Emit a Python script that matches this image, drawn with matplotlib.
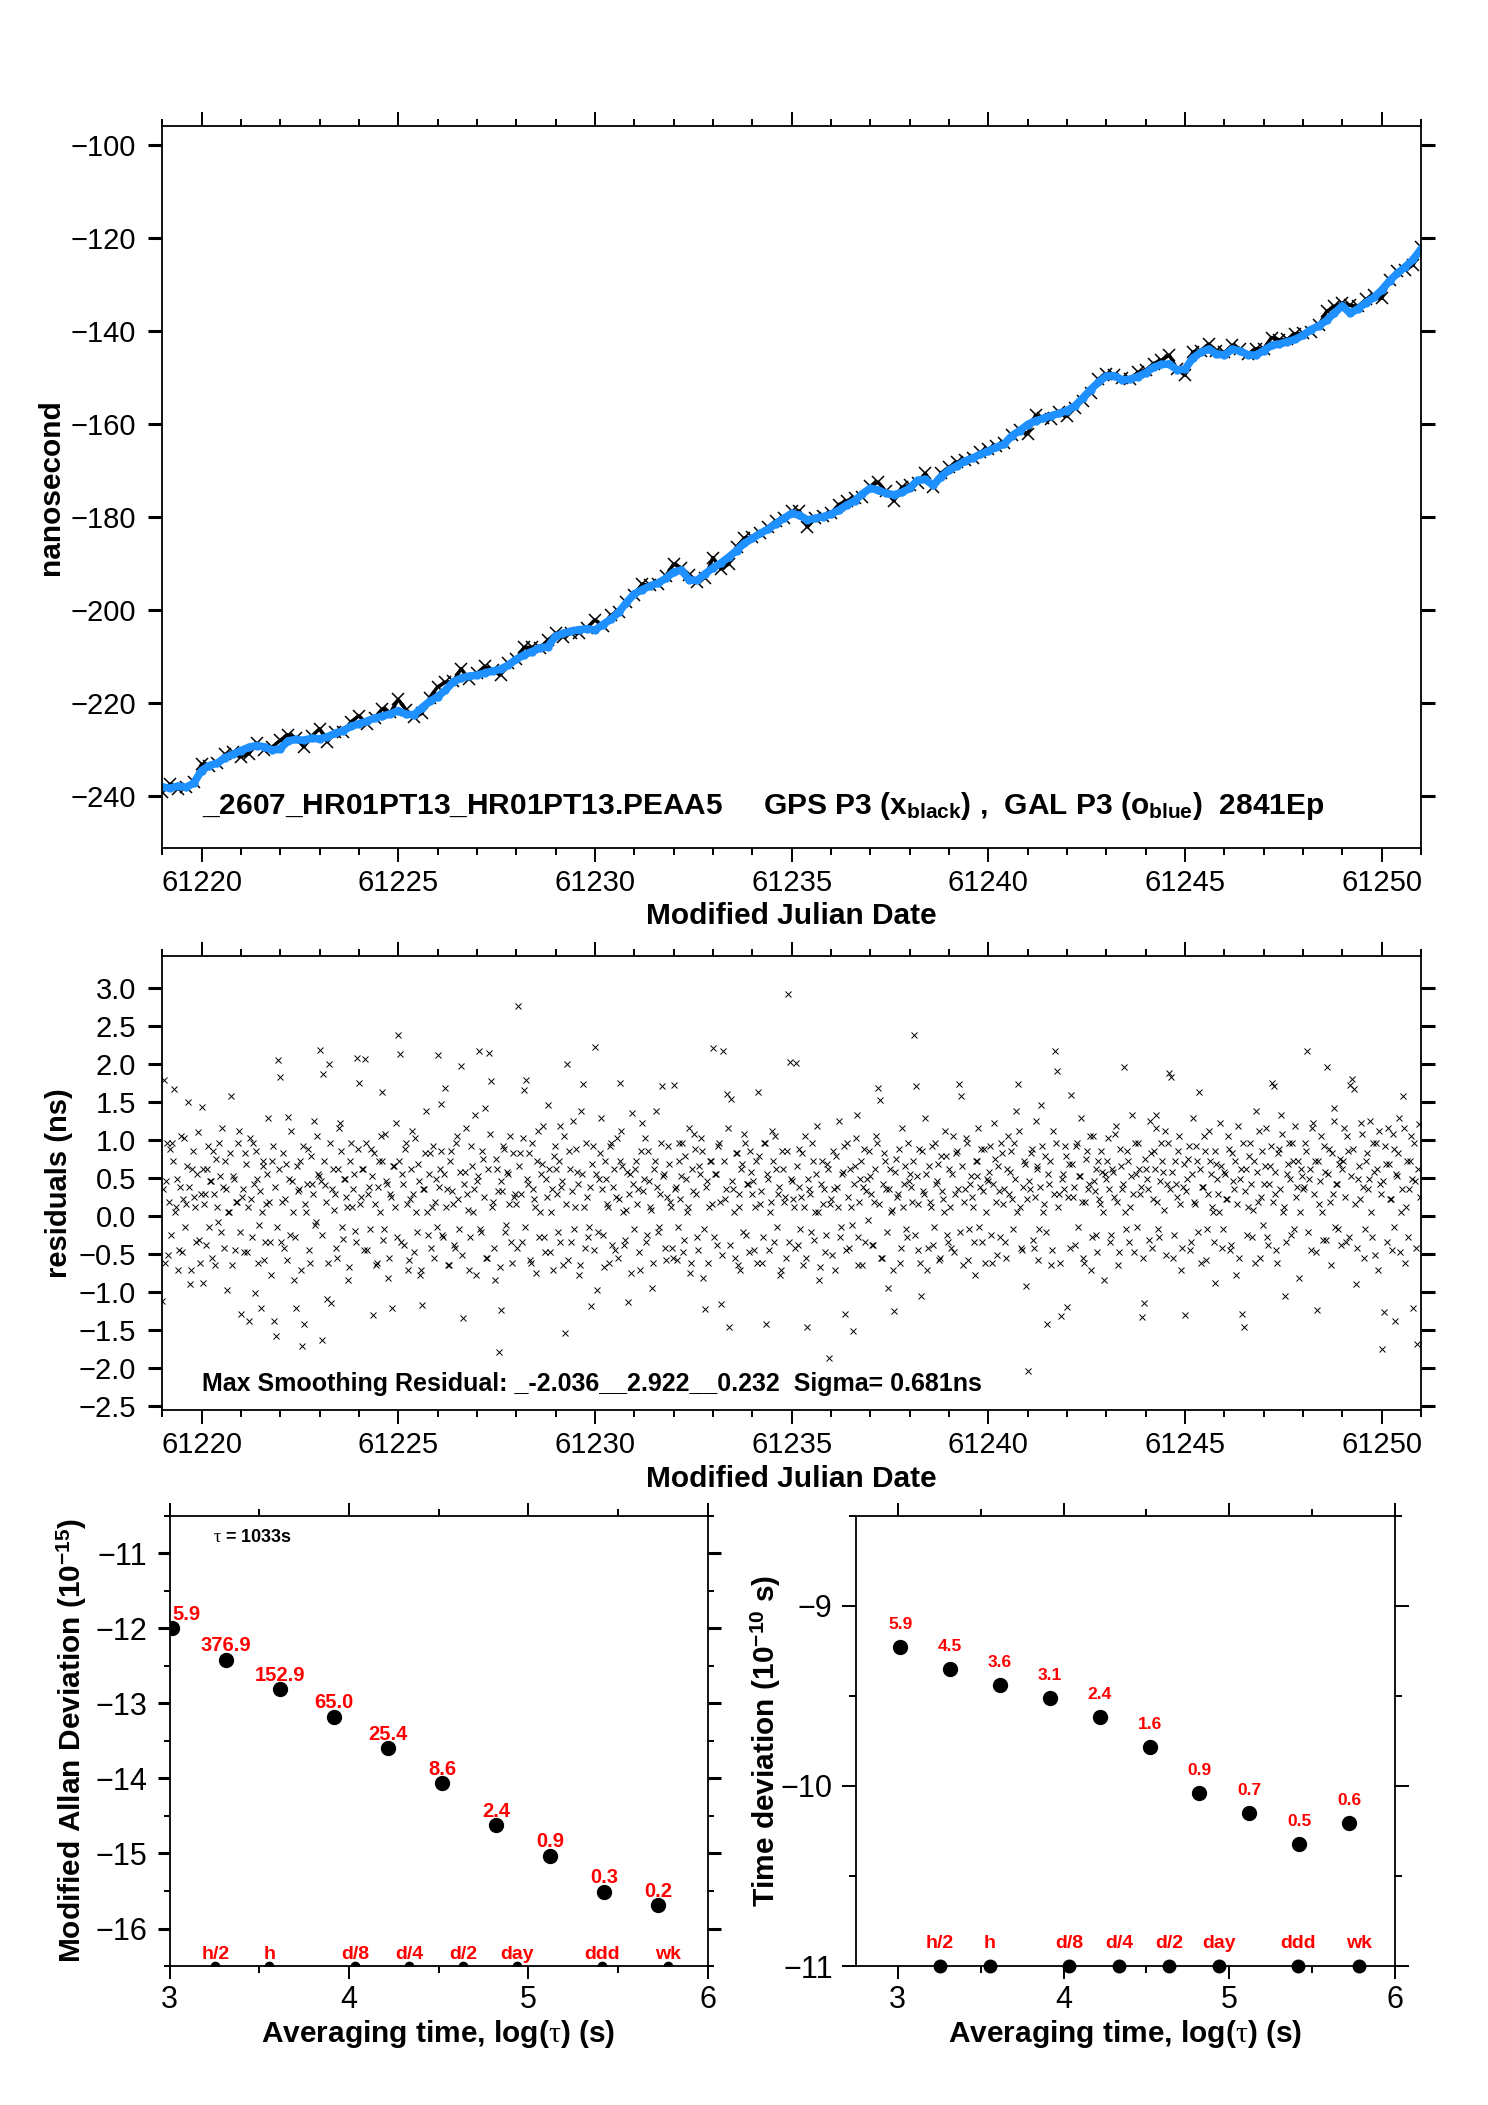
import numpy as np
import matplotlib
matplotlib.use('Agg')
import matplotlib.pyplot as plt
from matplotlib.ticker import MultipleLocator, FuncFormatter

plt.rcParams['font.family'] = ['Liberation Sans', 'DejaVu Sans']
plt.rcParams['mathtext.fontset'] = 'custom'
plt.rcParams['mathtext.rm'] = 'Liberation Sans'
plt.rcParams['mathtext.bf'] = 'Liberation Sans:bold'
plt.rcParams['mathtext.it'] = 'Liberation Serif'

# ---------------- data ----------------
# top panel, one value every 0.2 day from MJD 61219.0 to 61251.0
gal_ns = [-238.0, -238.3, -237.8, -238.1, -237.2, -234.5, -233.4, -232.9, -231.7, -231.0,
          -230.2, -229.5, -229.1, -229.4, -230.1, -229.8, -228.1, -227.8, -228.0, -227.5,
          -227.7, -227.2, -226.5, -225.9, -225.0, -224.4, -223.9, -223.2, -222.8, -222.3,
          -221.6, -222.4, -222.5, -221.0, -219.6, -218.6, -217.2, -215.4, -214.6, -214.2,
          -214.0, -213.5, -213.1, -212.7, -211.8, -210.6, -209.6, -208.9, -208.1, -207.9,
          -205.6, -205.0, -204.5, -204.2, -204.0, -204.3, -203.1, -202.0, -200.5, -198.4,
          -196.5, -195.6, -194.8, -194.2, -193.2, -191.8, -191.4, -193.5, -193.6, -192.2,
          -190.9, -189.9, -188.6, -187.2, -185.6, -184.6, -183.5, -182.6, -181.4, -180.3,
          -179.2, -179.6, -180.6, -180.3, -179.9, -179.4, -178.5, -177.4, -176.5, -175.0,
          -173.8, -174.2, -174.9, -175.2, -174.7, -173.8, -172.1, -171.9, -173.2, -171.3,
          -169.9, -169.0, -168.0, -167.3, -166.5, -165.8, -165.0, -164.3, -162.5, -161.4,
          -160.1, -159.3, -158.8, -158.2, -157.7, -157.1, -156.1, -154.4, -152.6, -151.0,
          -149.7, -149.6, -150.5, -150.4, -149.8, -149.0, -147.8, -147.2, -147.1, -148.4,
          -148.2, -145.8, -144.6, -143.9, -144.9, -145.2, -143.9, -144.3, -145.1, -145.2,
          -144.2, -143.1, -142.8, -142.3, -141.8, -140.9, -139.7, -138.9, -137.7, -136.1,
          -134.6, -136.2, -135.2, -133.9, -132.8, -131.2, -129.2, -127.6, -126.2, -124.6,
          -122.4]
gps_ns = [-239.1, -237.4, -238.5, -238.0, -237.0, -233.1, -233.6, -232.8, -231.0, -230.5,
          -231.5, -230.9, -228.6, -230.0, -229.4, -228.0, -226.8, -227.5, -229.4, -227.1,
          -225.5, -228.3, -226.2, -226.2, -224.0, -222.7, -224.4, -223.1, -221.2, -222.0,
          -219.2, -221.4, -223.0, -222.2, -218.8, -216.5, -215.5, -215.3, -212.6, -214.9,
          -213.6, -212.1, -212.9, -213.9, -211.3, -210.5, -208.0, -208.0, -208.1, -206.5,
          -205.0, -205.7, -204.9, -205.0, -203.8, -202.1, -203.4, -201.1, -200.3, -198.3,
          -196.7, -194.4, -194.7, -194.4, -192.7, -190.1, -190.9, -192.4, -193.9, -193.0,
          -188.7, -191.1, -190.1, -186.4, -184.5, -184.3, -183.4, -182.1, -180.8, -180.1,
          -178.8, -178.7, -182.1, -180.3, -179.8, -179.2, -177.3, -176.5, -175.9, -175.7,
          -173.3, -172.5, -174.5, -176.5, -173.6, -173.2, -172.6, -170.6, -173.6, -170.5,
          -169.3, -168.2, -167.7, -167.2, -166.1, -165.4, -164.8, -164.0, -162.3, -161.3,
          -162.1, -158.1, -158.8, -158.9, -157.4, -158.3, -156.5, -155.0, -153.3, -150.3,
          -149.2, -149.4, -150.2, -150.3, -148.9, -148.4, -147.0, -146.3, -145.2, -148.2,
          -149.5, -144.5, -144.2, -142.8, -144.2, -144.6, -143.1, -143.8, -145.0, -143.8,
          -143.8, -141.4, -141.9, -141.8, -140.6, -140.5, -140.2, -138.8, -135.8, -134.7,
          -134.0, -134.5, -134.7, -133.2, -132.2, -133.0, -129.0, -127.1, -126.8, -125.8,
          -122.0]

# residuals, one value every 0.05 day from MJD 61219.0 (one row per day)
res_ns = [
    -1.12, 1.79, 0.45, -0.52, 0.88, 0.95, 1.66, 0.12, -0.71, 0.38, -0.48, 1.02, 0.15, 1.50, -0.90, 0.62, 0.24, -0.35, 1.10, -0.62,
    1.43, -0.88, 0.28, 0.62, -0.15, 0.45, 0.85, -0.65, 0.12, 0.95, -0.22, 0.38, 0.72, -0.98, 0.05, 1.58, 0.52, -0.45, 0.18, 1.12,
    -1.29, 0.35, 0.82, -0.48, -1.38, 0.22, 0.95, -1.02, 0.48, -0.12, -1.22, 0.65, -0.58, 0.15, 1.28, -0.35, 0.72, -1.38, -1.58, 2.05,
    1.83, 0.18, -0.42, 0.68, 1.30, -0.25, 0.45, -0.85, -1.22, 0.32, 0.72, -1.72, -1.43, 0.05, 0.88, -0.62, 0.42, 1.25, -0.08, 0.55,
    2.18, -1.63, 1.86, 0.40, -1.09, 2.00, -1.15, 0.62, 0.28, -0.55, 1.15, 0.85, -0.30, 0.48, 0.12, -0.68, 0.95, 0.35, -0.20, 2.07,
    1.74, 0.25, 0.62, 2.06, -0.45, 0.38, 0.88, -1.30, 0.15, -0.62, 0.72, 1.05, 1.63, -0.18, 0.45, -0.82, 0.28, -1.21, 0.65, 1.22,
    2.38, 2.13, 0.55, -0.38, 0.95, -0.72, 0.22, 1.12, -0.48, 0.05, 0.68, -0.78, -1.17, 0.35, 1.38, -0.25, 0.82, 0.12, -0.55, 0.48,
    2.12, 0.62, 1.47, -0.28, 1.68, 0.35, -0.65, 0.85, 0.15, -0.42, 1.05, -0.18, 1.97, -1.35, 0.58, 0.28, -0.72, 0.92, 0.05, 1.32,
    0.45, 2.17, -0.22, 0.75, 1.42, -0.55, 2.14, 1.77, 0.18, -0.85, 0.62, -1.79, -1.24, 0.32, 0.88, -0.12, 0.55, 1.05, -0.62, 0.25,
    0.15, 2.76, 0.82, -0.35, 1.65, 1.79, 0.42, -0.58, 0.95, 0.22, -0.75, 1.12, 0.05, 0.68, -0.28, 0.48, 1.45, -0.48, 0.35, 0.78,
    0.62, -0.22, 1.18, 0.38, -0.65, -1.54, 2.00, 0.85, -0.35, 1.25, 0.12, 0.58, -0.78, 1.38, 1.73, -0.42, 0.25, -0.15, -1.19, 0.92,
    2.22, -0.98, 0.48, 1.28, -0.25, 0.72, 0.15, -0.62, 0.95, 0.38, -0.45, 1.02, 0.22, 1.74, 0.65, -0.38, 0.08, -1.14, 0.55, 1.35,
    -0.18, 0.72, 0.35, -0.72, 1.22, 0.48, -0.35, 0.85, 0.12, -0.95, 0.62, 1.38, -0.22, 0.28, 1.71, 0.55, -0.58, 0.92, 0.18, -0.42,
    1.72, 0.38, -0.15, 0.95, 0.52, -0.48, 0.78, 0.05, 1.15, -0.62, 0.32, 0.88, -0.28, 0.65, 1.02, -0.82, -1.23, 0.45, 0.12, 0.72,
    2.20, 0.55, -0.38, 0.95, -1.16, 2.17, 0.22, 1.60, -1.47, 1.53, 0.35, -0.55, 0.82, 0.12, -0.72, 0.68, 1.08, -0.25, 0.42, 0.85,
    0.28, -0.45, 0.72, 1.63, 0.15, -0.62, 0.95, -1.42, 0.48, 0.05, 1.12, -0.35, 0.62, 0.28, -0.78, 0.85, 0.18, -0.55, 2.92, 2.02,
    0.45, 0.12, 2.01, -0.38, 0.88, 0.25, -0.65, 1.05, -1.47, 0.35, -0.22, 0.72, 0.05, 1.18, -0.85, 0.42, 0.15, -0.48, 0.68, -1.87,
    0.22, 0.85, -0.72, 0.38, 1.25, -0.15, 0.58, -1.29, 0.95, -0.42, 0.12, -1.51, 0.65, 1.32, -0.28, 0.48, -0.65, 0.88, 0.32, -0.05,
    0.52, -0.38, 0.18, 1.05, 1.68, 1.52, -0.55, 0.82, 0.35, -0.95, 0.62, 0.08, -1.25, 0.75, 0.28, -0.62, 1.15, 0.42, -0.18, 0.95,
    0.55, 0.18, 2.38, 1.71, -0.45, 0.88, -1.05, 0.32, 1.28, -0.72, 0.65, 0.12, -0.38, 0.95, 0.45, -0.58, 0.78, 0.22, 1.12, -0.25,
    0.62, -0.42, 1.05, 0.28, 0.85, 1.73, 1.58, -0.65, 0.35, 0.95, -0.18, 0.52, 0.12, -0.78, 0.72, 1.15, 0.38, -0.35, 0.88, 0.05,
    0.45, 0.92, -0.62, 1.22, 0.18, 0.65, -0.28, 0.82, 0.35, -0.55, 1.05, 0.58, 0.22, 0.95, 1.38, 1.73, 0.12, -0.45, 0.72, -0.93,
    -2.04, 0.35, 0.88, -0.42, 1.25, 0.62, -0.18, 1.45, 0.05, 0.78, -1.42, 0.42, -0.65, 1.12, 2.17, 1.90, 0.28, -1.32, 0.55, 0.92,
    -1.20, 0.68, 1.59, 0.25, -0.38, 0.95, 0.52, 1.28, -0.55, 0.18, 0.85, 0.42, -0.72, 1.05, 0.32, -0.25, 0.72, 0.15, 0.58, -0.85,
    0.48, 1.02, -0.35, 0.62, 0.25, 1.18, -0.65, 0.88, 0.35, 1.95, -0.18, 0.72, 0.12, 1.32, -0.48, 0.55, 0.95, 0.28, -1.33, -1.15,
    0.62, 0.35, 1.25, -0.42, 0.85, 1.32, 0.18, -0.28, 0.95, 0.58, 1.12, 0.42, 1.88, 1.83, -0.55, 0.72, 0.25, 1.05, -0.72, 0.38,
    -1.30, 0.48, 0.92, -0.35, 1.28, 0.15, 0.72, 1.63, -0.62, 0.38, 0.85, -0.18, 1.12, 0.55, 0.05, -0.88, 0.68, 0.28, 1.22, -0.42,
    0.58, 0.22, 1.05, -0.45, 0.82, 0.35, -0.78, 1.18, 0.48, -1.29, -1.47, 0.62, 0.12, 0.95, -0.28, 0.72, 1.38, 0.18, -0.55, 0.85,
    0.42, 1.15, -0.38, 0.65, 1.75, 1.71, 0.28, -0.62, 0.88, 1.32, 0.05, -1.05, 0.55, 0.95, -0.25, 0.72, 1.18, 0.38, -0.82, 0.62,
    0.35, 0.95, 2.17, 0.48, -0.45, 1.22, 0.72, -1.24, 0.15, 1.05, -0.32, 0.58, 1.95, 0.88, -0.65, 0.28, 1.42, 0.42, -0.18, 0.75,
    0.62, 1.15, -0.35, 0.85, 1.72, 1.80, 1.67, -0.90, 0.48, 0.22, 1.08, -0.55, 0.72, 0.35, 1.25, -0.28, 0.58, 0.95, -0.72, 0.42,
    -1.75, -1.27, 0.68, 1.15, 0.22, -0.45, 0.88, -1.38, 0.52, 1.28, 0.05, 1.58, -0.62, 0.72, 0.35, 1.05, -1.22, 0.45, -1.69, 1.20]

# residuals at the epochs in between (MJD 61219.025 + 0.05 k)
res_ns_mid = [
    0.35, -0.62, 0.95, 0.18, -0.25, 0.72, 0.05, 0.48, -0.45, 1.05, 0.22, -0.15, 0.65, 0.38, -0.72, 0.85, 0.12, 0.55, -0.32, 0.28,
    0.62, 0.15, -0.38, 0.92, 0.45, -0.55, 0.28, 0.75, -0.08, 0.52, 1.15, -0.42, 0.35, 0.05, 0.82, -0.65, 0.48, 0.18, 0.95, -0.22,
    0.25, -0.48, 0.68, 0.12, 1.02, -0.28, 0.42, 0.85, -0.62, 0.32, 0.05, 0.72, -0.35, 0.55, 0.18, -0.78, 0.92, 0.38, -0.15, 0.62,
    -0.35, 0.82, 0.22, -0.58, 0.48, 1.12, 0.05, -0.28, 0.65, 0.35, -0.72, 0.92, 0.15, 0.42, -0.45, 0.78, 0.28, -0.12, 1.05, 0.52,
    0.45, -0.25, 0.72, 0.18, -0.62, 0.95, 0.35, 0.08, -0.42, 0.62, 1.22, -0.15, 0.48, 0.25, -0.85, 0.72, 0.12, 0.55, -0.35, 0.88,
    0.15, 0.62, -0.45, 0.95, 0.28, -0.18, 0.52, 0.82, -0.65, 0.38, 0.05, 0.72, -0.32, 1.08, 0.42, -0.55, 0.25, 0.65, 0.12, -0.28,
    0.72, -0.35, 0.42, 0.88, 0.15, -0.58, 0.62, 0.28, 1.02, -0.22, 0.45, -0.72, 0.35, 0.82, 0.05, 0.55, -0.42, 0.92, 0.18, -0.15,
    0.38, 0.85, -0.25, 0.55, 0.12, -0.65, 0.72, 0.32, -0.38, 0.95, 0.22, 0.58, -0.52, 0.42, 1.15, 0.08, -0.28, 0.65, 0.35, -0.78,
    0.52, -0.18, 0.85, 0.25, -0.55, 0.62, 1.08, 0.12, -0.42, 0.75, 0.32, -0.68, 0.45, 0.92, -0.22, 0.58, 0.15, -0.35, 0.82, 0.28,
    -0.42, 0.65, 0.28, 1.02, -0.15, 0.48, 0.82, -0.62, 0.35, 0.12, 0.72, -0.28, 0.55, 1.18, -0.48, 0.25, 0.62, 0.05, -0.72, 0.92,
    0.28, 0.72, -0.35, 0.45, 1.05, 0.15, -0.58, 0.62, 0.32, -0.18, 0.88, 0.42, -0.65, 0.55, 0.12, 0.95, -0.28, 0.38, 0.68, -0.45,
    0.55, -0.22, 0.82, 0.35, -0.68, 0.48, 0.12, 0.92, -0.38, 0.62, 0.25, -0.55, 0.72, 1.12, 0.05, -0.32, 0.58, 0.28, -0.75, 0.42,
    0.62, 0.15, -0.48, 0.85, 0.32, 1.02, -0.25, 0.45, 0.08, -0.62, 0.72, 0.38, -0.15, 0.95, 0.52, -0.42, 0.25, 0.68, 0.12, -0.55,
    0.35, -0.58, 0.72, 0.22, 0.95, -0.32, 0.48, 0.12, -0.75, 0.62, 1.08, 0.28, -0.45, 0.55, 0.85, -0.18, 0.38, -0.62, 0.72, 0.15,
    -0.28, 0.55, 0.92, 0.18, -0.52, 0.72, 0.35, 1.15, -0.38, 0.45, 0.05, 0.82, -0.65, 0.28, 0.62, -0.22, 0.95, 0.42, -0.48, 0.58,
    0.45, 0.12, -0.62, 0.78, 0.32, -0.28, 0.95, 0.55, -0.45, 0.18, 0.72, 1.05, -0.15, 0.38, -0.72, 0.62, 0.25, 0.85, -0.35, 0.48,
    0.22, -0.42, 0.65, 0.38, -0.18, 0.82, 0.12, -0.55, 0.48, 0.28, 0.95, -0.32, 0.55, 0.05, -0.68, 0.72, 0.35, -0.25, 0.62, 0.15,
    -0.52, 0.35, 0.78, 0.12, -0.28, 0.55, 0.92, -0.45, 0.25, 0.62, -0.12, 0.42, 1.02, -0.65, 0.18, 0.72, 0.38, -0.35, 0.48, 0.85,
    0.28, -0.38, 0.62, 0.95, 0.15, -0.55, 0.42, 0.72, -0.22, 0.35, 0.05, -0.72, 0.58, 0.25, 0.88, -0.42, 0.12, 0.65, -0.28, 0.45,
    0.38, 0.72, -0.25, 0.52, 0.15, -0.62, 0.85, 0.28, 0.55, -0.42, 0.18, 0.92, -0.15, 0.42, 0.68, -0.55, 0.32, 0.05, 0.78, -0.35,
    0.12, 0.55, -0.48, 0.82, 0.35, -0.22, 0.65, 0.18, 1.02, -0.58, 0.42, 0.25, -0.35, 0.72, 0.52, -0.15, 0.88, 0.32, -0.62, 0.48,
    0.58, -0.25, 0.42, 0.75, -0.52, 0.32, 0.95, 0.15, -0.35, 0.62, 0.28, 0.85, -0.18, 0.48, 0.05, 1.12, -0.42, 0.38, 0.68, 0.22,
    0.45, 0.82, -0.32, 0.25, 0.65, -0.58, 0.38, 0.92, 0.15, -0.22, 0.55, 0.72, -0.45, 0.28, 0.95, 0.12, -0.62, 0.48, 0.35, 0.78,
    0.25, -0.42, 0.68, 0.38, 0.92, -0.15, 0.52, 0.18, -0.62, 0.75, 0.35, 1.05, -0.28, 0.45, 0.62, -0.48, 0.22, 0.85, 0.05, 0.55,
    0.72, 0.35, -0.25, 0.58, 1.08, 0.18, -0.48, 0.65, 0.42, 0.05, 0.85, -0.35, 0.52, 0.28, 0.95, -0.15, 0.62, 0.38, -0.55, 0.75,
    0.48, -0.32, 0.82, 0.22, 0.62, 1.15, -0.18, 0.45, 0.72, 0.08, -0.52, 0.95, 0.35, 0.58, -0.25, 0.42, 0.85, 0.15, -0.42, 0.68,
    0.32, 0.75, -0.45, 0.55, 0.18, 0.92, -0.22, 0.62, 0.38, 1.05, -0.58, 0.28, 0.72, 0.12, -0.35, 0.85, 0.48, 0.05, 0.65, -0.18,
    0.55, 0.22, 0.88, -0.38, 0.45, 0.72, 0.15, -0.55, 0.62, 0.95, 0.32, -0.25, 0.78, 0.42, 0.08, -0.62, 0.58, 1.12, 0.25, -0.12,
    0.65, -0.28, 0.42, 0.92, 0.18, 0.58, -0.45, 0.82, 0.35, 1.08, 0.12, -0.35, 0.68, 0.48, 0.95, -0.18, 0.25, 0.72, 0.05, 0.52,
    0.38, 0.85, -0.22, 0.62, 1.15, 0.28, -0.48, 0.72, 0.45, 0.05, 0.92, -0.32, 0.55, 0.18, 0.82, 1.25, -0.15, 0.42, 0.68, -0.38,
    0.72, 0.25, 1.05, -0.28, 0.52, 0.88, 0.15, -0.42, 0.65, 1.22, 0.38, -0.18, 0.82, 0.48, 0.05, 0.95, -0.52, 0.62, 1.12, 0.28,
    0.45, 0.92, -0.35, 0.68, 0.22, 1.08, -0.15, 0.55, 0.82, -0.48, 0.35, 1.15, 0.12, -0.28, 0.72, 0.48, 0.95, -0.42, 0.62, 0.25]

# stability panels
log_tau = [3.014, 3.315, 3.616, 3.917, 4.218, 4.519, 4.820, 5.121, 5.422, 5.723]
madev = [-12.00, -12.42, -12.81, -13.18, -13.60, -14.06, -14.62, -15.03, -15.51, -15.69]
madev_txt = ['5.9', '376.9', '152.9', '65.0', '25.4', '8.6', '2.4', '0.9', '0.3', '0.2']
tdev = [-9.23, -9.35, -9.44, -9.51, -9.62, -9.785, -10.04, -10.15, -10.325, -10.205]
tdev_txt = ['5.9', '4.5', '3.6', '3.1', '2.4', '1.6', '0.9', '0.7', '0.5', '0.6']
ref_log = [3.255, 3.556, 4.033, 4.334, 4.635, 4.936, 5.414, 5.782]
ref_txt = ['h/2', 'h', 'd/8', 'd/4', 'd/2', 'day', 'ddd', 'wk']

mjd_top = np.linspace(61219.0, 61251.0, len(gal_ns))
mjd_res = 61219.0 + np.arange(len(res_ns)) * 0.05
mjd_res_mid = mjd_res + 0.025

BLUE = '#1E90FF'
RED = '#FF0000'
minus_fmt = FuncFormatter(lambda v, p: f'{v:.1f}'.replace('-', '\u2212'))


def ticks_out(ax, xlen=10, ylen=10, ywidth=2.2):
    # tick lengths in points (1 pt = 1.39 px here)
    ax.tick_params(which='both', direction='out', top=True, right=True, colors='k')
    ax.tick_params(axis='x', which='major', length=xlen, width=1.4)
    ax.tick_params(axis='x', which='minor', length=xlen / 2, width=1.4)
    ax.tick_params(axis='y', which='major', length=ylen, width=ywidth)
    ax.tick_params(axis='y', which='minor', length=ylen / 2, width=1.4)
    for s in ax.spines.values():
        s.set_linewidth(1.3)


fig = plt.figure(figsize=(14.88, 21.05), dpi=100)

# ---------------- top: clock offsets ----------------
ax1 = fig.add_axes([0.109, 0.597, 0.846, 0.343])
ax1.plot(mjd_top, gps_ns, '-', color='k', lw=2.5)
ax1.plot(mjd_top, gps_ns, 'x', color='k', ms=9, mew=1.1)
ax1.plot(mjd_top, gal_ns, '-', color=BLUE, lw=5.5)
ax1.plot(mjd_top, gal_ns, 'o', color=BLUE, ms=5)
ax1.set_xlim(61219.0, 61251.0)
ax1.set_ylim(-251.2, -96.0)
ax1.xaxis.set_major_locator(MultipleLocator(5))
ax1.xaxis.set_minor_locator(MultipleLocator(1))
ax1.yaxis.set_major_locator(MultipleLocator(20))
ticks_out(ax1)
ax1.tick_params(labelsize=21)
ax1.tick_params(axis='x', pad=5)
ax1.tick_params(axis='y', pad=9)
ax1.set_xlabel('Modified Julian Date', fontsize=21.5, fontweight='bold')
ax1.xaxis.set_label_coords(0.5, -0.075)
ax1.set_ylabel('nanosecond', fontsize=21.5, fontweight='bold')
ax1.yaxis.set_label_coords(-0.077, 0.5)
ax1.text(61220.0, -243.8,
         r'_2607_HR01PT13_HR01PT13.PEAA5     GPS P3 (x$_{\mathbf{black}}$) ,  '
         r'GAL P3 (o$_{\mathbf{blue}}$)  2841Ep',
         fontsize=21.5, fontweight='bold', va='baseline')

# ---------------- middle: residuals ----------------
ax2 = fig.add_axes([0.109, 0.330, 0.846, 0.216])
ax2.plot(mjd_res, res_ns, 'x', color='k', ms=5, mew=0.7)
ax2.plot(mjd_res_mid, res_ns_mid, 'x', color='k', ms=5, mew=0.7)
ax2.set_xlim(61219.0, 61251.0)
ax2.set_ylim(-2.56, 3.42)
ax2.xaxis.set_major_locator(MultipleLocator(5))
ax2.xaxis.set_minor_locator(MultipleLocator(1))
ax2.yaxis.set_major_locator(MultipleLocator(0.5))
ax2.yaxis.set_major_formatter(minus_fmt)
ticks_out(ax2)
ax2.tick_params(labelsize=21)
ax2.tick_params(axis='x', pad=5)
ax2.tick_params(axis='y', pad=9)
ax2.set_xlabel('Modified Julian Date', fontsize=21.5, fontweight='bold')
ax2.xaxis.set_label_coords(0.5, -0.12)
ax2.set_ylabel('residuals (ns)', fontsize=21, fontweight='bold')
ax2.yaxis.set_label_coords(-0.0705, 0.5)
ax2.text(61220.0, -2.3,
         'Max Smoothing Residual: _-2.036__2.922__0.232  Sigma= 0.681ns',
         fontsize=18, fontweight='bold', va='baseline')

# ---------------- bottom left: modified Allan deviation ----------------
ax3 = fig.add_axes([0.114, 0.066, 0.3615, 0.214])
ax3.plot(log_tau, madev, 'o', color='k', ms=10)
for x, y, t in zip(log_tau, madev, madev_txt):
    ha = 'left' if t == madev_txt[0] else 'center'
    ax3.annotate(t, (x, y), xytext=(0, 6), textcoords='offset points',
                 ha=ha, va='baseline', color=RED, fontsize=14.5, fontweight='bold')
ax3.plot(ref_log, [-16.5] * len(ref_log), 'o', color='k', ms=6)
for x, t in zip(ref_log, ref_txt):
    ax3.annotate(t, (x, -16.5), xytext=(0, 5), textcoords='offset points',
                 ha='center', va='baseline', color=RED, fontsize=14, fontweight='bold')
ax3.text(3.24, -10.79, r'$\tau$ = 1033s', fontsize=13, fontweight='bold', va='center')
ax3.set_xlim(3, 6)
ax3.set_ylim(-16.5, -10.5)
ax3.xaxis.set_major_locator(MultipleLocator(1))
ax3.xaxis.set_minor_locator(MultipleLocator(0.5))
ax3.yaxis.set_major_locator(MultipleLocator(1))
ax3.yaxis.set_minor_locator(MultipleLocator(0.5))
ticks_out(ax3, xlen=9.5, ylen=9)
ax3.tick_params(labelsize=22)
ax3.tick_params(axis='x', pad=4)
ax3.tick_params(axis='y', pad=7)
ax3.set_xlabel(r'Averaging time, log($\tau$) (s)', fontsize=21.5, fontweight='bold')
ax3.xaxis.set_label_coords(0.5, -0.115)
ax3.set_ylabel(r'Modified Allan Deviation (10$^{\mathbf{-15}}$)', fontsize=21.5, fontweight='bold')
ax3.yaxis.set_label_coords(-0.149, 0.5)

# ---------------- bottom right: time deviation ----------------
ax4 = fig.add_axes([0.5755, 0.066, 0.362, 0.214])
ax4.plot(log_tau, tdev, 'o', color='k', ms=10)
for x, y, t in zip(log_tau, tdev, tdev_txt):
    ax4.annotate(t, (x, y), xytext=(0, 13), textcoords='offset points',
                 ha='center', va='baseline', color=RED, fontsize=12.5, fontweight='bold')
ax4.plot(ref_log, [-11.0] * len(ref_log), 'o', color='k', ms=9, clip_on=False)
for x, t in zip(ref_log, ref_txt):
    ax4.annotate(t, (x, -11.0), xytext=(0, 13), textcoords='offset points',
                 ha='center', va='baseline', color=RED, fontsize=14, fontweight='bold')
ax4.set_xlim(2.75, 6.0)
ax4.set_ylim(-11.0, -8.5)
ax4.xaxis.set_major_locator(MultipleLocator(1))
ax4.xaxis.set_minor_locator(MultipleLocator(0.5))
ax4.yaxis.set_major_locator(MultipleLocator(1))
ax4.yaxis.set_minor_locator(MultipleLocator(0.5))
ticks_out(ax4, xlen=9.5, ylen=10, ywidth=1.4)
ax4.tick_params(labelsize=22)
ax4.tick_params(axis='x', pad=4)
ax4.tick_params(axis='y', pad=7)
ax4.set_xlabel(r'Averaging time, log($\tau$) (s)', fontsize=21.5, fontweight='bold')
ax4.xaxis.set_label_coords(0.5, -0.115)
ax4.set_ylabel(r'Time deviation (10$^{\mathbf{-10}}$ s)', fontsize=21.5, fontweight='bold')
ax4.yaxis.set_label_coords(-0.136, 0.5)

fig.savefig('out.png', dpi=100)
